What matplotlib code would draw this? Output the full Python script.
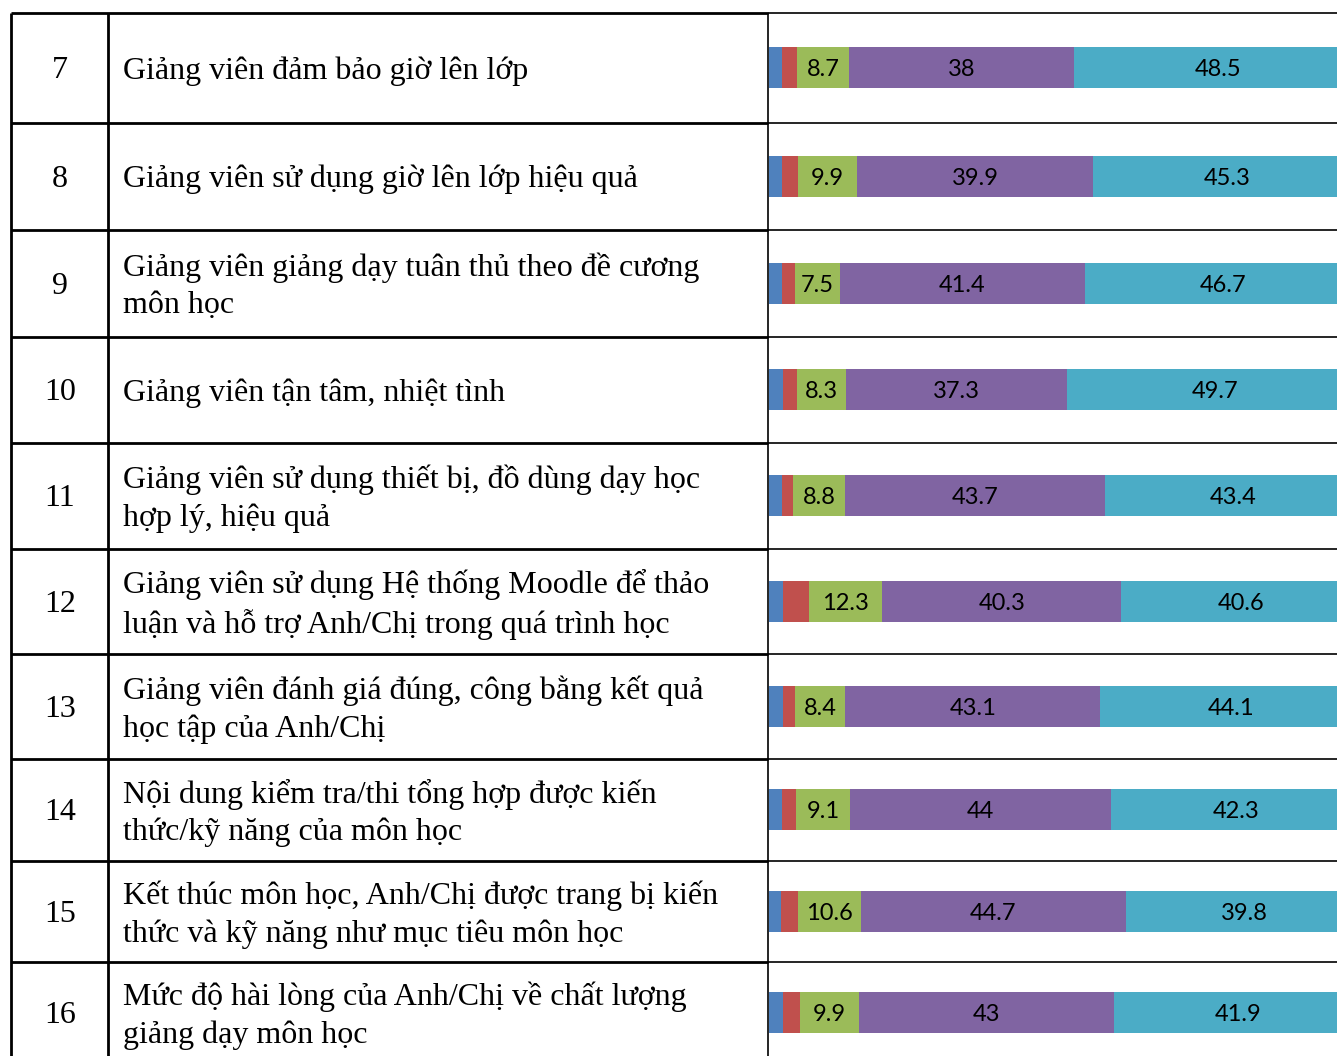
import matplotlib
matplotlib.use("Agg")
import matplotlib.pyplot as plt

# ---------------- data ----------------
item_numbers = ["7", "8", "9", "10", "11", "12", "13", "14", "15", "16"]
criteria = [
    "Giảng viên đảm bảo giờ lên lớp",
    "Giảng viên sử dụng giờ lên lớp hiệu quả",
    "Giảng viên giảng dạy tuân thủ theo đề cương\nmôn học",
    "Giảng viên tận tâm, nhiệt tình",
    "Giảng viên sử dụng thiết bị, đồ dùng dạy học\nhợp lý, hiệu quả",
    "Giảng viên sử dụng Hệ thống Moodle để thảo\nluận và hỗ trợ Anh/Chị trong quá trình học",
    "Giảng viên đánh giá đúng, công bằng kết quả\nhọc tập của Anh/Chị",
    "Nội dung kiểm tra/thi tổng hợp được kiến\nthức/kỹ năng của môn học",
    "Kết thúc môn học, Anh/Chị được trang bị kiến\nthức và kỹ năng như mục tiêu môn học",
    "Mức độ hài lòng của Anh/Chị về chất lượng\ngiảng dạy môn học",
]
level1 = [2.2, 2.2, 2.2, 2.4, 2.2, 2.3, 2.4, 2.2, 2.1, 2.3]
level2 = [2.6, 2.7, 2.2, 2.3, 1.9, 4.5, 2.0, 2.4, 2.8, 2.9]
level3 = [8.7, 9.9, 7.5, 8.3, 8.8, 12.3, 8.4, 9.1, 10.6, 9.9]
level4 = [38, 39.9, 41.4, 37.3, 43.7, 40.3, 43.1, 44, 44.7, 43]
level5 = [48.5, 45.3, 46.7, 49.7, 43.4, 40.6, 44.1, 42.3, 39.8, 41.9]
series = [level1, level2, level3, level4, level5]
colors = ["#4F81BD", "#C0504D", "#9BBB59", "#8064A2", "#4BACC6"]
labelled = [False, False, True, True, True]

# ---------------- layout (pixels) ----------------
W, H = 1337, 1056
row_edges = [13, 123, 230, 337, 443, 549, 654, 759, 861, 962, 1063]
x_left, x_col1, x_col2, x_right = 11, 108, 768, 1337
px_per_unit = 5.93
bar_h = 41

fig = plt.figure(figsize=(W / 100, H / 100), dpi=100)
bg = fig.add_axes([0, 0, 1, 1])
bg.set_xlim(0, W)
bg.set_ylim(H, 0)
bg.axis("off")

# table lines
for y in row_edges:
    bg.plot([x_left, x_col2], [y, y], color="black", lw=2.0, solid_capstyle="butt")
    bg.plot([x_col2, x_right], [y, y], color="black", lw=1.2, solid_capstyle="butt")
for x, lw in [(x_left, 2.0), (x_col1, 2.0), (x_col2, 1.2)]:
    bg.plot([x, x], [row_edges[0], H + 10], color="black", lw=lw, solid_capstyle="butt")

serif = "Liberation Serif"
for i, (num, crit) in enumerate(zip(item_numbers, criteria)):
    yc = (row_edges[i] + row_edges[i + 1]) / 2 + 3
    bg.text(60, yc, num, ha="center", va="center", fontsize=23, family=serif)
    bg.text(123, yc, crit, ha="left", va="center", fontsize=23, family=serif,
            linespacing=1.37)

# bars: one axes per table row
ax_w_units = (x_right - (x_col2 + 1)) / px_per_unit
for i in range(len(item_numbers)):
    yc = (row_edges[i] + row_edges[i + 1]) / 2 - 0.5
    ax = fig.add_axes([(x_col2 + 1) / W, 1 - (yc + bar_h / 2) / H,
                       (x_right - x_col2 - 1) / W, bar_h / H])
    ax.set_xlim(0, ax_w_units)
    ax.set_ylim(-0.5, 0.5)
    ax.axis("off")
    left = 0
    for vals, col, lab in zip(series, colors, labelled):
        v = vals[i]
        ax.barh(0, v, left=left, height=1.0, color=col, edgecolor="none")
        if lab:
            ax.annotate(f"{v:g}", (left + v / 2, 0), xytext=(0, -2.5),
                        textcoords="offset pixels", ha="center", va="center",
                        fontsize=17, family="Lato", color="black",
                        annotation_clip=False)
        left += v

fig.savefig("out.png", dpi=100)
